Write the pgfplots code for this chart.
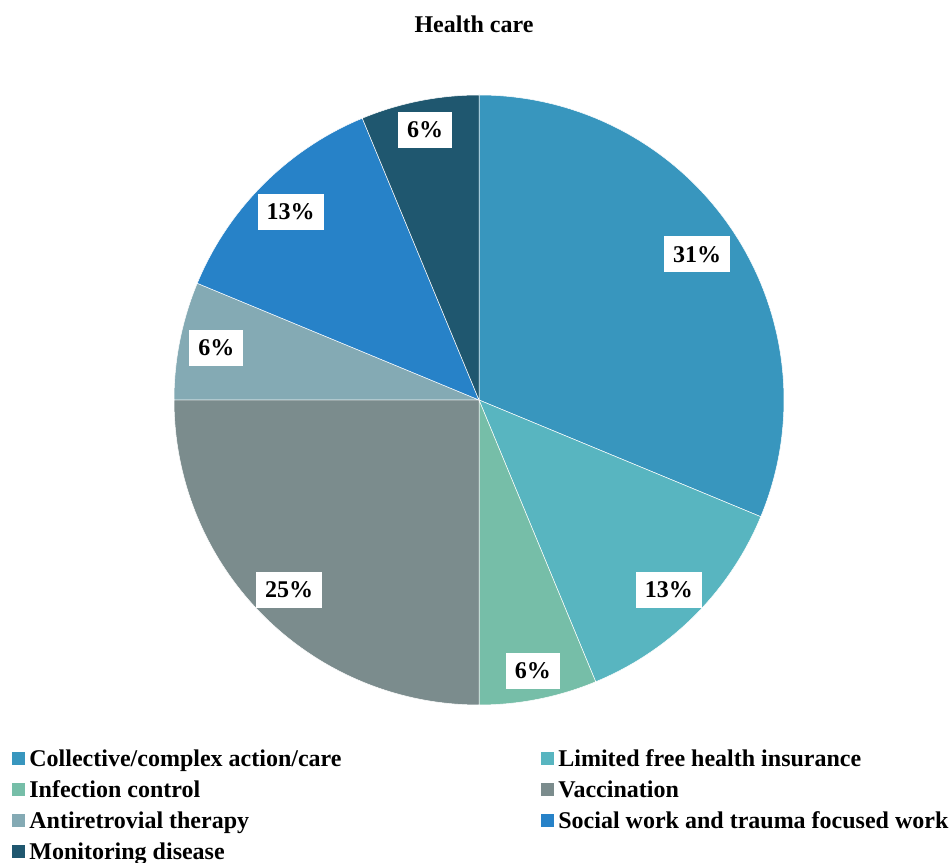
\documentclass[border=0pt]{standalone}
\usepackage{pgfplots}
\pgfplotsset{compat=1.18}
\usepackage{fontspec}
\setmainfont{Liberation Serif}
\definecolor{c1}{RGB}{56,150,190}
\definecolor{c2}{RGB}{88,181,192}
\definecolor{c3}{RGB}{118,190,168}
\definecolor{c4}{RGB}{123,140,141}
\definecolor{c5}{RGB}{132,170,180}
\definecolor{c6}{RGB}{39,130,200}
\definecolor{c7}{RGB}{31,87,111}
\begin{document}
\begin{tikzpicture}
\begin{axis}[
  width=475pt, height=431.5pt, scale only axis,
  hide axis, clip=false,
  xmin=0, xmax=950, ymin=-863, ymax=0,
]
\pgfplotsextra{
  \xdef\curangle{90}
  \foreach \v/\col/\f/\lab in {31.25/c1/0.86/31\%, 12.5/c2/0.88/13\%, 6.25/c3/0.905/6\%, 25/c4/0.88/25\%, 6.25/c5/0.878/6\%, 12.5/c6/0.874/13\%, 6.25/c7/0.904/6\%}{
    \pgfmathsetmacro\s{\curangle}
    \pgfmathsetmacro\e{\curangle-3.6*\v}
    \fill[\col, draw=white, line width=0.25pt] (axis cs:479,-400) -- ++(\s:152.5pt) arc[start angle=\s, end angle=\e, radius=152.5pt] -- cycle;
    \xdef\curangle{\e}
  }
  \xdef\curangle{90}
  \foreach \v/\col/\f/\lab in {31.25/c1/0.86/31\%, 12.5/c2/0.88/13\%, 6.25/c3/0.905/6\%, 25/c4/0.88/25\%, 6.25/c5/0.878/6\%, 12.5/c6/0.874/13\%, 6.25/c7/0.904/6\%}{
    \pgfmathsetmacro\s{\curangle}
    \pgfmathsetmacro\e{\curangle-3.6*\v}
    \pgfmathsetmacro\m{(\s+\e)/2}
    \pgfmathsetmacro\rr{\f*152.5}
    \node[fill=white, inner xsep=4.5pt, inner ysep=0pt, minimum height=18pt, font=\fontsize{12pt}{14pt}\selectfont\bfseries] at ([shift={(\m:\rr pt)}]axis cs:479,-400) {\lab};
    \xdef\curangle{\e}
  }
  \node[anchor=base, font=\fontsize{12pt}{14pt}\selectfont\bfseries] at (axis cs:474,-33) {Health care};
  \foreach \px/\py/\col/\txt in {
    12/766.5/c1/Collective\slash complex action\slash care,
    541/766.5/c2/Limited free health insurance,
    12/797.5/c3/Infection control,
    541/797.5/c4/Vaccination,
    12/828.5/c5/Antiretrovial therapy,
    541/828.5/c6/Social work and trauma focused work,
    12/859.5/c7/Monitoring disease}{
    \fill[\col] (axis cs:\px,-\py+1) rectangle ++(6.5pt,6.5pt);
    \node[anchor=base west, inner sep=0pt, font=\fontsize{12pt}{14pt}\selectfont\bfseries] at ([xshift=8.5pt]axis cs:\px,-\py) {\txt};
  }
}
\end{axis}
\pgfresetboundingbox
\useasboundingbox (current axis.south west) rectangle (current axis.north east);
\end{tikzpicture}
\end{document}
